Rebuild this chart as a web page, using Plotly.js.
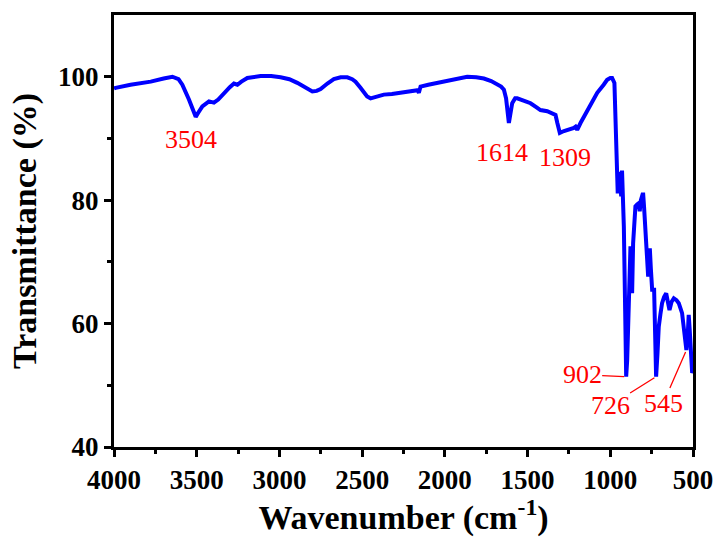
<!DOCTYPE html>
<html>
<head>
<meta charset="utf-8">
<script src="https://cdn.plot.ly/plotly-3.0.1.min.js"></script>
<style>html,body{margin:0;padding:0;background:#fff;}#chart{width:718px;height:537px;}</style>
</head>
<body>
<div id="chart"></div>
<script>
// Wavenumber (cm-1) and transmittance (%)
var wavenumber = [4000,3990,3900,3778,3700,3647,3610,3587,3547,3520,3506,3490,3466,3426,3396,3370,3335,3300,3275,3254,3230,3194,3114,3050,2993,2940,2892,2840,2801,2775,2751,2710,2671,2630,2590,2560,2540,2510,2489,2470,2449,2420,2369,2320,2268,2220,2177,2165,2157,2150,2147,2100,2066,2020,1966,1920,1865,1810,1764,1720,1683,1660,1643,1630,1613,1600,1593,1575,1563,1520,1482,1450,1422,1381,1345,1331,1320,1305,1280,1251,1220,1210,1200,1180,1130,1079,1040,1019,1000,989,975,969,959,955,948,943,938,934,929,924,918,910,904,898,892,885,878,872,868,862,855,848,838,828,822,815,805,801,796,792,785,777,771,766,761,755,747,735,728,723,715,707,697,687,675,662,652,642,630,616,600,586,566,553,540,532,526,520,512,505,500];
var transmittance = [98.1,98.2,98.7,99.2,99.7,100.0,99.6,98.7,96.3,94.3,93.5,94.2,95.2,96.0,95.8,96.3,97.4,98.3,98.9,98.7,99.2,99.8,100.1,100.1,99.9,99.6,99.0,98.1,97.6,97.7,98.0,98.9,99.6,99.9,99.9,99.6,99.2,98.2,97.4,96.8,96.5,96.7,97.1,97.2,97.4,97.6,97.9,97.8,97.4,98.0,98.4,98.7,98.9,99.1,99.5,99.7,100.0,99.9,99.7,99.3,98.7,98.4,97.9,96.5,92.5,94.5,95.7,96.5,96.5,96.1,95.7,95.1,94.6,94.4,94.0,93.8,92.5,90.9,91.2,91.4,91.7,91.9,91.4,92.5,95.0,97.4,98.7,99.5,99.8,99.8,99.0,91.9,84.9,81.1,83.5,84.6,82.0,80.6,84.8,80.0,75.7,62.0,51.4,54.0,59.5,66.0,72.5,70.0,64.9,73.0,77.0,79.0,79.3,79.5,78.2,80.0,80.9,80.9,79.0,77.3,74.0,72.5,67.6,70.0,72.2,69.0,65.5,65.5,57.0,51.4,55.0,59.5,61.5,63.3,64.3,64.9,63.5,62.2,63.5,64.1,63.8,63.3,61.7,58.5,55.7,58.0,61.4,59.0,55.0,52.0,52.3];

// Peak labels and the points they mark
var peakLabels = ['3504','1614','1309','902','726','545'];
var peakX = [3506,1613,1305,904,723,540];
var peakY = [93.5,92.5,90.9,51.4,51.4,55.7];

var xTickVals = [4000,3500,3000,2500,2000,1500,1000,500];
var yTickVals = [40,60,80,100];

var serif = "'Liberation Serif', 'Times New Roman', serif";

// label placement (pixel offsets)
var labelStyle = [
  {arrow:false, xshift:-5, yshift:-23},
  {arrow:false, xshift:-7, yshift:-29},
  {arrow:false, xshift:5, yshift:-25},
  {arrow:true, ax:-44, ay:-2},
  {arrow:true, ax:-46, ay:29},
  {arrow:true, ax:-23, ay:53}
];

var annotations = peakLabels.map(function(t, i){
  var s = labelStyle[i];
  var a = {x: peakX[i], y: peakY[i], xref:'x', yref:'y', text: t,
    font:{family:serif, size:26, color:'#ff0000'}};
  if (s.arrow) {
    a.showarrow = true; a.arrowhead = 0; a.arrowwidth = 1.3; a.arrowcolor = '#ff0000';
    a.ax = s.ax; a.ay = s.ay; a.standoff = 2; a.borderpad = 0;
  } else {
    a.showarrow = false; a.xshift = s.xshift; a.yshift = s.yshift;
  }
  return a;
});

var trace = {x: wavenumber, y: transmittance, type:'scatter', mode:'lines',
  line:{color:'#0000ff', width:4}, hoverinfo:'skip'};

function bold(v){ return '<b>' + v + '</b>'; }

var layout = {
  width:718, height:537,
  margin:{l:114, r:25, t:15, b:90},
  paper_bgcolor:'#ffffff', plot_bgcolor:'#ffffff',
  showlegend:false,
  font:{family:serif, color:'#000'},
  xaxis:{
    range:[4000,500], tickmode:'array', tickvals:xTickVals, ticktext:xTickVals.map(bold),
    showgrid:false, zeroline:false,
    showline:true, linecolor:'#000', linewidth:3, mirror:true,
    ticks:'outside', ticklen:7, tickwidth:3, tickcolor:'#000',
    minor:{dtick:250, ticks:'outside', ticklen:4, tickwidth:3, tickcolor:'#000', showgrid:false},
    tickfont:{family:serif, size:27, color:'#000'},
    title:{text:'<b>Wavenumber (cm<sup>-1</sup>)</b>', font:{family:serif, size:34, color:'#000'}, standoff:8}
  },
  yaxis:{
    range:[40,110], tickmode:'array', tickvals:yTickVals, ticktext:yTickVals.map(bold),
    showgrid:false, zeroline:false,
    showline:true, linecolor:'#000', linewidth:3, mirror:true,
    ticks:'outside', ticklen:7, tickwidth:3, tickcolor:'#000',
    minor:{tickvals:[50,70,90], ticks:'outside', ticklen:4, tickwidth:3, tickcolor:'#000', showgrid:false},
    tickfont:{family:serif, size:27, color:'#000'},
    title:{text:'<b>Transmittance (%)</b>', font:{family:serif, size:34, color:'#000'}, standoff:12}
  },
  annotations: annotations
};

Plotly.newPlot('chart', [trace], layout, {displayModeBar:false, staticPlot:true});
</script>
</body>
</html>
